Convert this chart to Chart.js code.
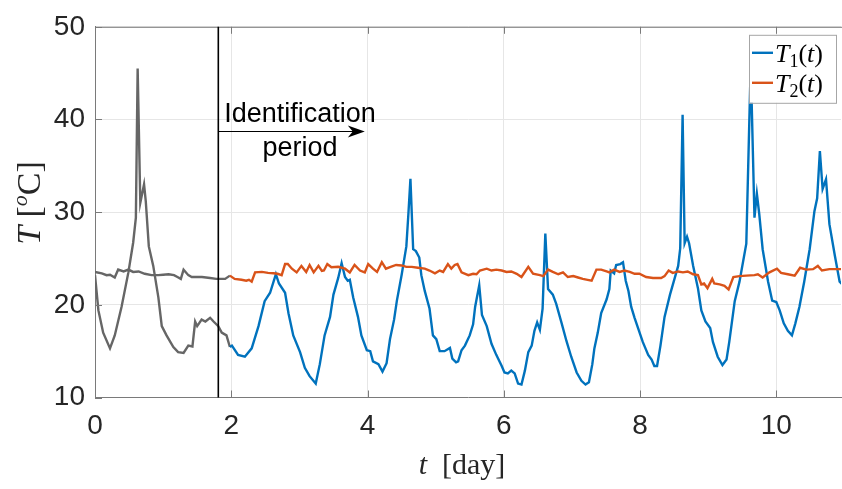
<!DOCTYPE html>
<html>
<head>
<meta charset="utf-8">
<script src="https://cdn.jsdelivr.net/npm/chart.js@4.4.1/dist/chart.umd.min.js"></script>
<style>
  html, body { margin: 0; padding: 0; background: #fff; }
  #wrap { width: 842px; height: 489px; }
</style>
</head>
<body>
<div id="wrap"><canvas id="tempChart" width="842" height="489"></canvas></div>
<script>
// room temperature T1 and T2 (degC) against time (days)
const t1Days = [
  0.00, 0.05, 0.12, 0.22, 0.29, 0.39, 0.49, 0.56, 0.60, 0.626, 0.665, 0.72, 0.745, 0.79, 0.855,
  0.93, 0.98, 1.05, 1.15, 1.22, 1.30, 1.37, 1.43, 1.47, 1.50, 1.565, 1.62, 1.69, 1.74, 1.81,
  1.86, 1.93, 1.98, 2.01, 2.10, 2.20, 2.30, 2.40, 2.49, 2.57, 2.655, 2.70, 2.79, 2.84, 2.91,
  3.01, 3.08, 3.15, 3.24, 3.30, 3.37, 3.45, 3.50, 3.57, 3.62, 3.67, 3.71, 3.74, 3.79, 3.86,
  3.91, 3.99, 4.04, 4.08, 4.16, 4.22, 4.28, 4.33, 4.39, 4.43, 4.50, 4.57, 4.60, 4.63, 4.67,
  4.71, 4.76, 4.79, 4.84, 4.91, 4.96, 5.01, 5.06, 5.13, 5.21, 5.245, 5.30, 5.33, 5.38, 5.43,
  5.50, 5.55, 5.58, 5.64, 5.68, 5.75, 5.82, 5.89, 5.97, 6.01, 6.06, 6.11, 6.16, 6.21, 6.26,
  6.31, 6.36, 6.41, 6.45, 6.49, 6.53, 6.57, 6.61, 6.65, 6.72, 6.77, 6.85, 6.92, 6.99, 7.07,
  7.14, 7.20, 7.25, 7.30, 7.33, 7.38, 7.43, 7.51, 7.55, 7.57, 7.62, 7.65, 7.71, 7.75, 7.79,
  7.83, 7.87, 7.92, 7.97, 8.04, 8.12, 8.17, 8.21, 8.25, 8.30, 8.36, 8.44, 8.51, 8.56, 8.59,
  8.625, 8.655, 8.69, 8.72, 8.78, 8.85, 8.90, 8.96, 9.03, 9.07, 9.14, 9.21, 9.27, 9.31, 9.39,
  9.46, 9.56, 9.625, 9.68, 9.715, 9.75, 9.80, 9.88, 9.94, 10.00, 10.05, 10.11, 10.17, 10.23, 10.28,
  10.34, 10.41, 10.49, 10.56, 10.60, 10.64, 10.68, 10.73, 10.78, 10.86, 10.93, 10.97
];
const t1Temps = [
  23.2, 19.4, 17.0, 15.3, 16.7, 19.8, 23.5, 26.7, 29.4, 45.5, 31.0, 33.0, 31.2, 26.3, 24.2,
  20.8, 17.7, 16.7, 15.45, 14.9, 14.8, 15.6, 15.5, 18.2, 17.7, 18.4, 18.2, 18.6, 18.2, 17.7,
  17.0, 16.7, 15.45, 15.6, 14.6, 14.4, 15.3, 17.7, 20.4, 21.3, 23.3, 22.3, 21.3, 19.1, 16.7,
  14.9, 13.2, 12.3, 11.5, 13.6, 16.7, 18.7, 21.1, 22.9, 24.5, 23.0, 22.6, 22.7, 20.8, 18.7,
  16.7, 15.1, 15.0, 13.9, 13.6, 12.8, 13.7, 16.3, 18.4, 20.4, 23.2, 26.3, 29.8, 33.6, 26.0,
  25.8, 25.1, 23.2, 21.5, 19.6, 16.7, 16.3, 15.0, 15.0, 15.35, 14.2, 13.8, 13.9, 15.1, 15.6,
  16.7, 17.9, 19.8, 22.1, 18.9, 17.7, 15.8, 14.6, 13.4, 12.7, 12.6, 12.9, 12.6, 11.5, 11.4,
  12.9, 14.9, 15.6, 17.2, 18.1, 17.3, 19.6, 27.7, 21.7, 21.1, 20.1, 18.0, 16.1, 14.4, 12.7,
  11.8, 11.4, 11.65, 13.6, 15.3, 17.0, 19.1, 20.6, 21.7, 23.7, 23.4, 24.3, 24.4, 24.6, 22.6,
  21.5, 19.8, 18.6, 17.5, 16.0, 14.6, 14.1, 13.4, 13.4, 15.6, 18.7, 21.1, 22.9, 24.2, 26.1,
  40.5, 26.65, 27.35, 26.65, 24.2, 21.8, 19.4, 18.2, 17.5, 16.0, 14.4, 13.5, 14.1, 16.0, 20.4,
  22.5, 26.6, 46.0, 29.4, 32.0, 29.8, 26.0, 22.5, 20.45, 20.3, 19.4, 18.0, 17.2, 16.7, 18.0,
  19.8, 22.5, 26.0, 30.1, 31.5, 36.6, 32.5, 33.55, 28.7, 25.3, 22.5, 22.2
];

const t2Days = [
  0.00, 0.10, 0.17, 0.22, 0.29, 0.34, 0.42, 0.49, 0.56, 0.64, 0.73, 0.83, 0.93, 1.00, 1.08,
  1.16, 1.21, 1.26, 1.30, 1.37, 1.42, 1.57, 1.69, 1.78, 1.91, 1.98, 2.05, 2.15, 2.22, 2.26,
  2.30, 2.35, 2.45, 2.54, 2.62, 2.68, 2.74, 2.79, 2.83, 2.89, 2.96, 3.03, 3.10, 3.15, 3.21,
  3.28, 3.33, 3.36, 3.41, 3.47, 3.57, 3.67, 3.74, 3.81, 3.89, 3.96, 4.01, 4.08, 4.14, 4.21,
  4.27, 4.34, 4.42, 4.50, 4.57, 4.65, 4.74, 4.84, 4.91, 4.99, 5.06, 5.11, 5.18, 5.23, 5.28,
  5.32, 5.38, 5.48, 5.55, 5.60, 5.65, 5.75, 5.82, 5.89, 5.97, 6.04, 6.11, 6.19, 6.26, 6.36,
  6.43, 6.53, 6.58, 6.65, 6.72, 6.80, 6.87, 6.94, 7.02, 7.09, 7.16, 7.23, 7.29, 7.36, 7.43,
  7.51, 7.55, 7.62, 7.70, 7.77, 7.85, 7.92, 7.99, 8.09, 8.19, 8.31, 8.36, 8.42, 8.48, 8.56,
  8.63, 8.70, 8.78, 8.85, 8.90, 8.94, 8.99, 9.06, 9.09, 9.17, 9.24, 9.30, 9.37, 9.46, 9.56,
  9.68, 9.73, 9.80, 9.90, 10.01, 10.07, 10.17, 10.27, 10.35, 10.44, 10.54, 10.61, 10.67, 10.78, 10.97
];
const t2Temps = [
  23.55, 23.4, 23.2, 23.25, 22.95, 23.8, 23.6, 23.8, 23.55, 23.6, 23.35, 23.2, 23.2, 23.25, 23.3,
  23.2, 23.0, 22.8, 23.8, 23.2, 23.0, 23.0, 22.9, 22.8, 22.8, 23.15, 22.8, 22.7, 22.6, 22.7,
  22.5, 23.5, 23.55, 23.45, 23.4, 23.35, 23.2, 24.4, 24.4, 23.9, 23.5, 24.2, 23.55, 24.3, 23.5,
  24.2, 23.65, 23.7, 24.4, 24.05, 24.1, 23.9, 23.5, 24.3, 23.7, 23.5, 24.4, 23.9, 23.55, 24.6,
  23.9, 24.1, 24.3, 24.25, 24.1, 24.1, 24.0, 23.9, 23.7, 23.4, 23.7, 23.55, 24.4, 23.9, 24.3,
  24.4, 23.5, 23.2, 23.35, 23.3, 23.7, 23.9, 23.7, 23.8, 23.7, 23.55, 23.6, 23.35, 23.0, 24.1,
  23.35, 23.2, 23.1, 23.8, 23.55, 23.3, 23.5, 23.0, 23.1, 22.95, 22.8, 22.7, 22.6, 23.8, 23.8,
  23.6, 23.5, 23.8, 23.55, 23.7, 23.55, 23.35, 23.35, 23.0, 22.9, 22.9, 23.1, 23.7, 23.45, 23.6,
  23.5, 23.6, 23.3, 23.2, 22.2, 22.3, 21.8, 22.8, 22.3, 22.2, 22.05, 21.65, 23.0, 23.1, 23.15,
  23.2, 23.3, 22.95, 23.5, 23.9, 23.45, 23.3, 23.15, 24.0, 23.8, 23.85, 24.2, 23.7, 23.85, 23.85
];

const xTicks = [0, 2, 4, 6, 8, 10];
const yTicks = [10, 20, 30, 40, 50];

const identStart = 1.81;   // vertical marker: start of identification period
const colourStart = 1.98;  // samples before this are drawn grey
const arrowEnd = 3.96;
const arrowLevel = 38.8;

const BLUE = '#0072BD';
const ORANGE = '#D95319';
const GREY = '#666666';
const AXIS = '#7a7a7a';
const SANS = '"Liberation Sans", Arial, sans-serif';
const SERIF = '"Liberation Serif", "Times New Roman", serif';

const toPts = (days, temps) => days.map((d, i) => ({ x: d, y: temps[i] }));
const p1 = toPts(t1Days, t1Temps);
const p2 = toPts(t2Days, t2Temps);

function lineSet(data, colour, order) {
  return {
    data: data,
    borderColor: colour,
    borderWidth: 2.4,
    pointRadius: 0,
    tension: 0,
    fill: false,
    order: order,
  };
}

// draw a row of text pieces with their own font and vertical shift
function drawRuns(ctx, runs, x, y, align) {
  let total = 0;
  runs.forEach((r) => {
    ctx.font = r[1];
    total += ctx.measureText(r[0]).width;
  });
  let cx = align === 'center' ? x - total / 2 : x;
  ctx.textAlign = 'left';
  ctx.textBaseline = 'alphabetic';
  runs.forEach((r) => {
    ctx.font = r[1];
    ctx.fillText(r[0], cx, y + (r[2] || 0));
    cx += ctx.measureText(r[0]).width;
  });
}

const decorations = {
  id: 'decorations',
  afterDraw(chart) {
    const ctx = chart.ctx;
    const area = chart.chartArea;
    const xs = chart.scales.x;
    const ys = chart.scales.y;
    ctx.save();

    // top box edge and inward tick marks
    ctx.strokeStyle = AXIS;
    ctx.lineWidth = 1;
    ctx.beginPath();
    ctx.moveTo(area.left, area.top + 0.5);
    ctx.lineTo(area.right + 2, area.top + 0.5);
    xTicks.forEach((v) => {
      const px = Math.round(xs.getPixelForValue(v)) + 0.5;
      ctx.moveTo(px, area.bottom);
      ctx.lineTo(px, area.bottom - 7);
      ctx.moveTo(px, area.top);
      ctx.lineTo(px, area.top + 7);
    });
    yTicks.forEach((v) => {
      const py = Math.round(ys.getPixelForValue(v)) + 0.5;
      ctx.moveTo(area.left, py);
      ctx.lineTo(area.left + 7, py);
    });
    ctx.stroke();

    // identification period marker
    const vx = xs.getPixelForValue(identStart);
    ctx.strokeStyle = '#000';
    ctx.lineWidth = 1.6;
    ctx.beginPath();
    ctx.moveTo(vx, area.top);
    ctx.lineTo(vx, area.bottom);
    ctx.stroke();

    const ay = Math.round(ys.getPixelForValue(arrowLevel)) + 0.5;
    const ax = xs.getPixelForValue(arrowEnd);
    ctx.lineWidth = 1;
    ctx.beginPath();
    ctx.moveTo(vx, ay);
    ctx.lineTo(ax - 4, ay);
    ctx.stroke();
    ctx.fillStyle = '#000';
    ctx.beginPath();
    ctx.moveTo(ax, ay);
    ctx.lineTo(ax - 17, ay - 6);
    ctx.lineTo(ax - 12, ay);
    ctx.lineTo(ax - 17, ay + 6);
    ctx.closePath();
    ctx.fill();

    ctx.font = '27px ' + SANS;
    ctx.textAlign = 'center';
    ctx.textBaseline = 'alphabetic';
    ctx.fillText('Identification', 300, ay - 10);
    ctx.fillText('period', 300, ay + 24);

    // legend
    const lx = area.right - 92, ly = area.top + 8, lw = 87, lh = 68;
    ctx.fillStyle = '#fff';
    ctx.fillRect(lx, ly, lw, lh);
    ctx.strokeStyle = '#a6a6a6';
    ctx.lineWidth = 1;
    ctx.strokeRect(lx + 0.5, ly + 0.5, lw, lh);
    const rows = [[BLUE, '1', ly + 18], [ORANGE, '2', ly + 48]];
    rows.forEach((r) => {
      ctx.strokeStyle = r[0];
      ctx.lineWidth = 2.4;
      ctx.beginPath();
      ctx.moveTo(lx + 3, r[2]);
      ctx.lineTo(lx + 24, r[2]);
      ctx.stroke();
      ctx.fillStyle = '#000';
      drawRuns(ctx, [
        ['T', 'italic 26px ' + SERIF],
        [r[1], '18px ' + SERIF, 5],
        ['(', '26px ' + SERIF],
        ['t', 'italic 26px ' + SERIF],
        [')', '26px ' + SERIF],
      ], lx + 26, r[2] + 9, 'left');
    });

    // axis titles
    ctx.fillStyle = '#262626';
    drawRuns(ctx, [
      ['t', 'italic 30px ' + SERIF],
      ['  [day]', '30px ' + SERIF],
    ], 462, 474, 'center');

    ctx.translate(40, 203);
    ctx.rotate(-Math.PI / 2);
    drawRuns(ctx, [
      ['T', 'italic 34px ' + SERIF],
      [' [', '34px ' + SERIF],
      ['o', 'italic 22px ' + SERIF, -13],
      ['C]', '34px ' + SERIF],
    ], 0, 0, 'center');

    ctx.restore();
  },
};

new Chart(document.getElementById('tempChart'), {
  type: 'line',
  data: {
    datasets: [
      lineSet(p1.filter((p) => p.x <= colourStart), GREY, 3),
      lineSet(p2.filter((p) => p.x <= colourStart), GREY, 2),
      lineSet(p1.filter((p) => p.x >= colourStart), BLUE, 1),
      lineSet(p2.filter((p) => p.x >= colourStart), ORANGE, 0),
    ],
  },
  options: {
    responsive: false,
    animation: false,
    events: [],
    layout: {
      autoPadding: false,
      padding: { top: 11, right: 1, left: 0, bottom: 0 },
    },
    plugins: {
      legend: { display: false },
      tooltip: { enabled: false },
      title: { display: false },
    },
    scales: {
      x: {
        type: 'linear',
        min: 0,
        max: 10.95,
        afterBuildTicks: (s) => { s.ticks = xTicks.map((v) => ({ value: v })); },
        afterFit: (s) => { s.height = 91.5; },
        grid: { color: '#e6e6e6', drawTicks: false },
        border: { display: true, color: AXIS, width: 1 },
        ticks: {
          font: { family: SANS, size: 28 },
          color: '#262626',
          padding: 12,
          maxRotation: 0,
        },
      },
      y: {
        type: 'linear',
        min: 10,
        max: 50,
        afterBuildTicks: (s) => { s.ticks = yTicks.map((v) => ({ value: v })); },
        afterFit: (s) => { s.width = 95; },
        grid: { color: '#e6e6e6', drawTicks: false },
        border: { display: true, color: AXIS, width: 1 },
        ticks: {
          font: { family: SANS, size: 28 },
          color: '#262626',
          padding: 10,
        },
      },
    },
  },
  plugins: [decorations],
});
</script>
</body>
</html>
